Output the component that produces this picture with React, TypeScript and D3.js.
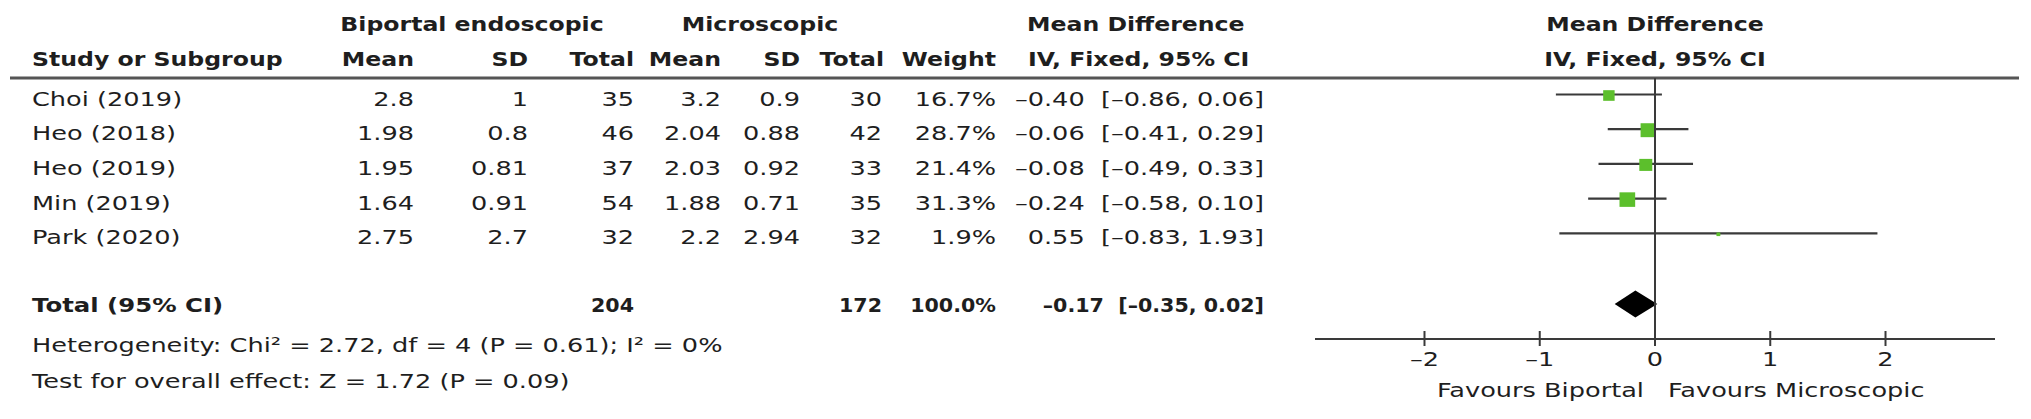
import React from "react";
import * as d3 from "d3";

const studies = ["Choi (2019)", "Heo (2018)", "Heo (2019)", "Min (2019)", "Park (2020)"];
const bioMean = ["2.8", "1.98", "1.95", "1.64", "2.75"];
const bioSD = ["1", "0.8", "0.81", "0.91", "2.7"];
const bioN = [35, 46, 37, 54, 32];
const micMean = ["3.2", "2.04", "2.03", "1.88", "2.2"];
const micSD = ["0.9", "0.88", "0.92", "0.71", "2.94"];
const micN = [30, 42, 33, 35, 32];
const weights = [16.7, 28.7, 21.4, 31.3, 1.9];
const md = [-0.4, -0.06, -0.08, -0.24, 0.55];
const lo = [-0.86, -0.41, -0.49, -0.58, -0.83];
const hi = [0.06, 0.29, 0.33, 0.1, 1.93];
const totalBioN = 204;
const totalMicN = 172;
const totalWeight = "100.0%";
const totalMd = -0.17;
const totalLo = -0.35;
const totalHi = 0.02;
const ticks = [-2, -1, 0, 1, 2];
const heterogeneity = "Heterogeneity: Chi² = 2.72, df = 4 (P = 0.61); I² = 0%";
const overall = "Test for overall effect: Z = 1.72 (P = 0.09)";

const W = 2031;
const H = 419;
const FONT = "DejaVu Sans";
const FS = 20;
const SX = 1.28;
const SXB = 1.18;
const SXN = 1.03;
const TXT = "#1e1e1e";
const LINE = "#3a3a3a";
const GREEN = "#5cbf2c";

const fmt = (v: number) => (v < 0 ? "–" : "") + Math.abs(v).toFixed(2);
const ciStr = (m: number, l: number, h: number) => `${fmt(m)}\u00A0 [${fmt(l)}, ${fmt(h)}]`;

function T(props: { x: number; y: number; anchor?: string; bold?: boolean; size?: number; sx?: number; children: any }) {
  const { x, y, anchor = "start", bold = false, size = FS, children } = props;
  const sx = props.sx ?? (bold ? SXB : SX);
  return (
    <text
      transform={`translate(${x},${y}) scale(${sx},1)`}
      textAnchor={anchor}
      fontFamily={FONT}
      fontSize={size}
      fontWeight={bold ? "bold" : "normal"}
      fill={TXT}
      style={{ whiteSpace: "pre" }}
    >
      {children}
    </text>
  );
}

export default function App() {
  const x = d3.scaleLinear().domain([-2.95, 2.95]).range([1315, 1995]);
  const y = d3.scaleLinear().domain([0, 4]).range([94.5, 233.3]);
  const col = { name: 32, bm: 414, bs: 528, bn: 634, mm: 721, ms: 800, mn: 882, w: 996, ci: 1264 };
  const yH1 = 31;
  const yH2 = 66;
  const yHeaderLine = 78;
  const yTotal = 304;
  const yAxis = 339;
  const x0 = x(0);
  const side = (w: number) => Math.sqrt(w);

  const diamond = d3.line()([
    [x(totalLo), yTotal],
    [x(totalMd), yTotal - 13.5],
    [x(totalHi), yTotal],
    [x(totalMd), yTotal + 13.5],
  ]) + "Z";

  return (
    <svg width={W} height={H} style={{ position: "absolute", left: 0, top: 0, background: "#fff" }}>
      <rect width={W} height={H} fill="#fff" />
      {/* headers */}
      <T x={472} y={yH1} anchor="middle" bold>Biportal endoscopic</T>
      <T x={760} y={yH1} anchor="middle" bold>Microscopic</T>
      <T x={1027} y={yH1} bold>Mean Difference</T>
      <T x={x0} y={yH1} anchor="middle" bold>Mean Difference</T>
      <T x={col.name} y={yH2} bold>Study or Subgroup</T>
      <T x={col.bm} y={yH2} anchor="end" bold>Mean</T>
      <T x={col.bs} y={yH2} anchor="end" bold>SD</T>
      <T x={col.bn} y={yH2} anchor="end" bold>Total</T>
      <T x={col.mm} y={yH2} anchor="end" bold>Mean</T>
      <T x={col.ms} y={yH2} anchor="end" bold>SD</T>
      <T x={col.mn + 2} y={yH2} anchor="end" bold>Total</T>
      <T x={col.w} y={yH2} anchor="end" bold>Weight</T>
      <T x={1028} y={yH2} bold>IV, Fixed, 95% CI</T>
      <T x={x0} y={yH2} anchor="middle" bold>IV, Fixed, 95% CI</T>
      <line x1={10} x2={2019} y1={yHeaderLine} y2={yHeaderLine} stroke="#555" strokeWidth={3} />

      {/* study rows */}
      {studies.map((s, i) => {
        const yy = y(i);
        const ty = yy + 11;
        const sw = 2.8 * side(weights[i]);
        const sh = 2.6 * side(weights[i]);
        return (
          <g key={s}>
            <T x={col.name} y={ty}>{s}</T>
            <T x={col.bm} y={ty} anchor="end">{bioMean[i]}</T>
            <T x={col.bs} y={ty} anchor="end">{bioSD[i]}</T>
            <T x={col.bn} y={ty} anchor="end">{bioN[i]}</T>
            <T x={col.mm} y={ty} anchor="end">{micMean[i]}</T>
            <T x={col.ms} y={ty} anchor="end">{micSD[i]}</T>
            <T x={col.mn} y={ty} anchor="end">{micN[i]}</T>
            <T x={col.w} y={ty} anchor="end">{weights[i].toFixed(1) + "%"}</T>
            <T x={col.ci} y={ty} anchor="end">{ciStr(md[i], lo[i], hi[i])}</T>
            <line x1={x(lo[i])} x2={x(hi[i])} y1={yy} y2={yy} stroke={LINE} strokeWidth={2.2} />
            <rect x={x(md[i]) - sw / 2} y={yy + 1 - sh / 2} width={sw} height={sh} fill={GREEN} />
          </g>
        );
      })}

      {/* total row */}
      <T x={col.name} y={yTotal + 8} bold sx={1.22}>Total (95% CI)</T>
      <T x={col.bn} y={yTotal + 8} anchor="end" bold sx={SXN}>{totalBioN}</T>
      <T x={col.mn} y={yTotal + 8} anchor="end" bold sx={SXN}>{totalMicN}</T>
      <T x={col.w} y={yTotal + 8} anchor="end" bold sx={SXN}>{totalWeight}</T>
      <T x={col.ci} y={yTotal + 8} anchor="end" bold sx={SXN}>{ciStr(totalMd, totalLo, totalHi)}</T>
      <path d={diamond} fill="#000" />

      <T x={col.name} y={352}>{heterogeneity}</T>
      <T x={col.name} y={388}>{overall}</T>

      {/* zero line & axis */}
      <line x1={x0} x2={x0} y1={yHeaderLine} y2={yAxis} stroke={LINE} strokeWidth={2} />
      <line x1={x.range()[0]} x2={x.range()[1]} y1={yAxis} y2={yAxis} stroke={LINE} strokeWidth={2.2} />
      {ticks.map((t) => (
        <g key={t}>
          <line x1={x(t)} x2={x(t)} y1={yAxis - 8} y2={yAxis + 7} stroke={LINE} strokeWidth={2} />
          <T x={x(t)} y={366} anchor="middle">{t < 0 ? "–" + Math.abs(t) : String(t)}</T>
        </g>
      ))}
      <T x={x0 - 11} y={397} anchor="end">Favours Biportal</T>
      <T x={x0 + 13} y={397} anchor="start">Favours Microscopic</T>
    </svg>
  );
}
